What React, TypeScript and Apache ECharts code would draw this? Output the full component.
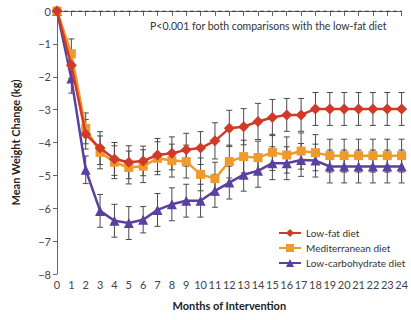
import React, { useEffect, useRef } from "react";
import * as echarts from "echarts";

const months = [0,1,2,3,4,5,6,7,8,9,10,11,12,13,14,15,16,17,18,19,20,21,22,23,24];
const lowFat = [0,-1.65,-3.75,-4.17,-4.5,-4.6,-4.56,-4.38,-4.33,-4.22,-4.17,-3.95,-3.57,-3.52,-3.36,-3.24,-3.16,-3.16,-2.98,-2.98,-2.98,-2.98,-2.98,-2.98,-2.98];
const mediterranean = [0,-1.3,-3.57,-4.3,-4.6,-4.76,-4.72,-4.48,-4.55,-4.58,-4.97,-5.1,-4.58,-4.43,-4.46,-4.3,-4.38,-4.26,-4.31,-4.4,-4.4,-4.4,-4.4,-4.4,-4.4];
const lowCarb = [0,-2.05,-4.83,-6.08,-6.38,-6.45,-6.35,-6.05,-5.88,-5.77,-5.77,-5.47,-5.22,-4.98,-4.86,-4.63,-4.63,-4.53,-4.55,-4.73,-4.73,-4.73,-4.73,-4.73,-4.73];
const errLowFat = [0,0.4,0.45,0.5,0.5,0.5,0.45,0.5,0.5,0.5,0.5,0.55,0.55,0.55,0.55,0.55,0.5,0.5,0.5,0.5,0.5,0.5,0.5,0.5,0.5];
const errMed = [0,0.45,0.47,0.5,0.5,0.5,0.5,0.5,0.5,0.5,0.5,0.5,0.5,0.5,0.5,0.55,0.55,0.55,0.55,0.5,0.5,0.5,0.5,0.5,0.5];
const errLowCarb = [0,0.45,0.42,0.5,0.5,0.5,0.4,0.5,0.5,0.5,0.5,0.5,0.5,0.5,0.5,0.5,0.5,0.5,0.5,0.5,0.5,0.5,0.5,0.5,0.5];
const yTicks = [0,-1,-2,-3,-4,-5,-6,-7,-8];
const seriesNames = ["Low-fat diet", "Mediterranean diet", "Low-carbohydrate diet"];
const annotation = "P<0.001 for both comparisons with the low-fat diet";

const RED = "#cf3a29";
const ORANGE = "#ee9a2c";
const PURPLE = "#5a41a0";
const FONT = "Lato, sans-serif";

function errData(vals: number[], errs: number[]) {
  return months.map((m, i) => [m, vals[i] - errs[i], vals[i] + errs[i]]);
}

function errSeries(vals: number[], errs: number[]) {
  return {
    type: "custom",
    silent: true,
    z: 1,
    data: errData(vals, errs).filter((d) => d[1] !== d[2]),
    encode: { x: 0, y: [1, 2] },
    renderItem: (params: any, api: any) => {
      const x = api.value(0);
      const lo = api.coord([x, api.value(1)]);
      const hi = api.coord([x, api.value(2)]);
      const w = 3;
      const style = { stroke: "#4a4a4a", lineWidth: 1 };
      return {
        type: "group",
        children: [
          { type: "line", shape: { x1: lo[0], y1: lo[1], x2: hi[0], y2: hi[1] }, style },
          { type: "line", shape: { x1: lo[0] - w, y1: lo[1], x2: lo[0] + w, y2: lo[1] }, style },
          { type: "line", shape: { x1: hi[0] - w, y1: hi[1], x2: hi[0] + w, y2: hi[1] }, style },
        ],
      };
    },
  };
}

function lineSeries(name: string, vals: number[], color: string, symbol: string, size: number, z: number) {
  return {
    name,
    type: "line",
    data: months.map((m, i) => [m, vals[i]]),
    symbol,
    symbolSize: size,
    showAllSymbol: true,
    clip: false,
    z,
    lineStyle: { color, width: 2.5 },
    itemStyle: { color },
  };
}

export default function App() {
  const ref = useRef<HTMLDivElement>(null);
  useEffect(() => {
    if (!ref.current) return;
    const chart = echarts.init(ref.current, null, { renderer: "svg" });
    chart.setOption({
      animation: false,
      backgroundColor: "#ffffff",
      grid: { left: 57, right: 7, top: 11, bottom: 46 },
      legend: {
        orient: "vertical",
        left: 273,
        top: 223,
        itemWidth: 22,
        itemHeight: 10,
        itemGap: 5,
        data: seriesNames,
        textStyle: { fontFamily: FONT, fontSize: 10, color: "#333" },
      },
      xAxis: {
        type: "value",
        min: 0,
        max: 24,
        interval: 1,
        name: "Months of Intervention",
        nameLocation: "middle",
        nameGap: 26,
        nameTextStyle: { fontFamily: FONT, fontSize: 11, fontWeight: "bold", color: "#222" },
        axisLine: { lineStyle: { color: "#666", width: 1 } },
        axisTick: { length: 5, lineStyle: { color: "#666" } },
        axisLabel: { fontFamily: FONT, fontSize: 11, color: "#444", margin: 5 },
        splitLine: { show: false },
      },
      yAxis: {
        type: "value",
        min: -8,
        max: 0,
        interval: 1,
        name: "Mean Weight Change (kg)",
        nameLocation: "middle",
        nameGap: 36,
        nameTextStyle: { fontFamily: FONT, fontSize: 11, fontWeight: "bold", color: "#222" },
        axisLine: { show: true, lineStyle: { color: "#666", width: 1 } },
        axisTick: { show: true, length: 4, lineStyle: { color: "#666" } },
        axisLabel: {
          fontFamily: FONT,
          fontSize: 11,
          color: "#444",
          margin: 6,
          formatter: (v: number) => (v === 0 ? "0" : "\u2212" + Math.abs(v)),
        },
        splitLine: { show: false },
      },
      graphic: [
        {
          type: "text",
          left: 150,
          top: 20,
          style: { text: annotation, fontFamily: FONT, fontSize: 10.5, fill: "#333" },
        },
      ],
      series: [
        {
          type: "line",
          silent: true,
          data: [[months[0], yTicks[0]], [months[months.length - 1], yTicks[0]]],
          symbol: "none",
          z: 0,
          lineStyle: { color: "#222", type: [4, 3], width: 1 },
        },
        errSeries(lowCarb, errLowCarb),
        errSeries(mediterranean, errMed),
        errSeries(lowFat, errLowFat),
        lineSeries(seriesNames[2], lowCarb, PURPLE, "triangle", 10, 3),
        lineSeries(seriesNames[1], mediterranean, ORANGE, "rect", 9, 4),
        lineSeries(seriesNames[0], lowFat, RED, "diamond", 11, 5),
      ],
    });
    return () => chart.dispose();
  }, []);
  return <div ref={ref} style={{ width: 411, height: 320, position: "fixed", left: 0, top: 0 }} />;
}
